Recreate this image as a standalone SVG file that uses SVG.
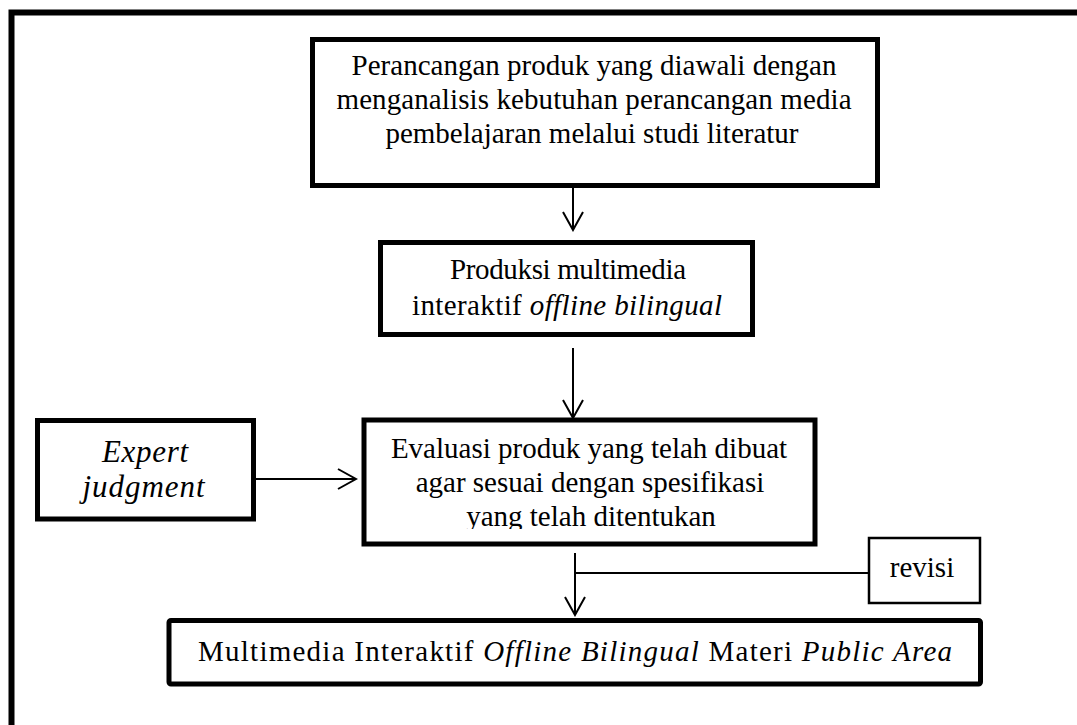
<svg xmlns="http://www.w3.org/2000/svg" width="1077" height="725" viewBox="0 0 1077 725">
  <style>
    .t { font-family: "Liberation Serif", "Times New Roman", serif; font-size: 29px; fill: #000; }
    .c { text-anchor: middle; }
    .i { font-style: italic; }
    .box { fill: #fff; stroke: #000; stroke-width: 5; }
    .thin { fill: #fff; stroke: #000; stroke-width: 2.5; }
    .ln { fill: none; stroke: #000; stroke-width: 2; }
  </style>
  <defs>
    <marker id="ah" viewBox="-20 -12 22 24" refX="0" refY="0" markerWidth="22" markerHeight="24" markerUnits="userSpaceOnUse" orient="auto">
      <path d="M-18,-10 L0,0 L-18,10" fill="none" stroke="#000" stroke-width="2"/>
    </marker>
    <clipPath id="clip3">
      <rect x="364" y="420" width="451" height="109"/>
    </clipPath>
  </defs>
  <rect x="0" y="0" width="1077" height="725" fill="#fff"/>
  <path d="M11.5,725 V12.5 H1077" fill="none" stroke="#000" stroke-width="6"/>

  <g id="connectors">
    <line class="ln" x1="573" y1="188" x2="573" y2="230" marker-end="url(#ah)"/>
    <line class="ln" x1="573" y1="348" x2="573" y2="418" marker-end="url(#ah)"/>
    <line class="ln" x1="256" y1="479" x2="356" y2="479" marker-end="url(#ah)"/>
    <line class="ln" x1="575" y1="553" x2="575" y2="615" marker-end="url(#ah)"/>
    <line class="ln" x1="575" y1="573" x2="869" y2="573"/>
  </g>

  <g id="node-perancangan">
    <rect class="box" x="312.5" y="39.5" width="565" height="146"/>
    <text class="t c" x="594" y="74.5">Perancangan produk yang diawali dengan</text>
    <text class="t c" x="594" y="108.5" textLength="515">menganalisis kebutuhan perancangan media</text>
    <text class="t c" x="592" y="143">pembelajaran melalui studi literatur</text>
  </g>

  <g id="node-produksi">
    <rect class="box" x="380.5" y="242.5" width="372" height="92"/>
    <text class="t c" x="568" y="279" textLength="236">Produksi multimedia</text>
    <text class="t c" x="567" y="315" textLength="310">interaktif <tspan class="i">offline bilingual</tspan></text>
  </g>

  <g id="node-expert">
    <rect class="box" x="37.5" y="420.5" width="216" height="98.5"/>
    <text class="t c i" x="145" y="461.5" style="font-size:31px" textLength="86">Expert</text>
    <text class="t c i" x="143.5" y="496.5" style="font-size:31px" textLength="122">judgment</text>
  </g>

  <g id="node-evaluasi">
    <rect class="box" x="364" y="420" width="451" height="124"/>
    <text class="t c" x="589" y="458">Evaluasi produk yang telah dibuat</text>
    <text class="t c" x="590" y="492">agar sesuai dengan spesifikasi</text>
    <text class="t c" x="591" y="526" clip-path="url(#clip3)">yang telah ditentukan</text>
  </g>

  <g id="node-revisi">
    <rect class="thin" x="869" y="538" width="111" height="65"/>
    <text class="t c" x="922" y="577">revisi</text>
  </g>

  <g id="node-hasil">
    <rect class="box" x="169" y="620.5" width="811.5" height="63.5" rx="2" stroke-linejoin="round"/>
    <text class="t" x="198" y="661" textLength="754" lengthAdjust="spacing">Multimedia  Interaktif  <tspan class="i">Offline Bilingual</tspan> Materi <tspan class="i">Public Area</tspan></text>
  </g>
</svg>
